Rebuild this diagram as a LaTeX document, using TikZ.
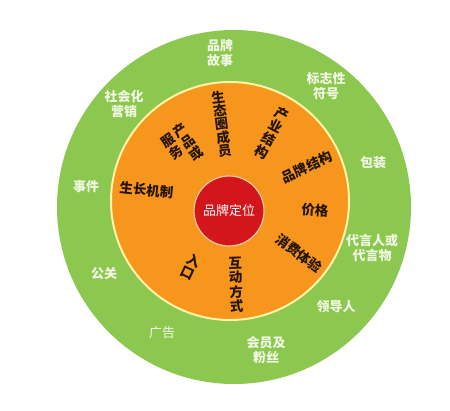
\documentclass[tikz,border=0pt]{standalone}
\usepackage{fontspec}
\newfontfamily\cjk{Noto Sans CJK SC}
\definecolor{gr}{HTML}{8CC750}
\definecolor{orng}{HTML}{F7961C}
\definecolor{yl}{HTML}{FFF3A6}
\definecolor{rd}{HTML}{D3161C}
\definecolor{rdedge}{HTML}{F4C7A4}
\definecolor{wt}{HTML}{F0F8E2}
\definecolor{dk}{HTML}{241400}
\tikzset{
  outer/.style={text=wt, font=\cjk\bfseries\fontsize{13}{15.5}\selectfont, align=center, inner sep=0pt},
  innerlbl/.style={text=dk, font=\cjk\bfseries\fontsize{13.5}{14}\selectfont, inner sep=0pt},
  vstack/.style={text=dk, font=\cjk\bfseries\fontsize{13.5}{#1}\selectfont, inner sep=0pt, align=center},
  vstack/.default=14
}
\begin{document}
\begin{tikzpicture}[x=1pt,y=-1pt]
\useasboundingbox[fill=white] (0,0) rectangle (450,410);
% rings
\node (ring) at (234,207) [circle, fill=gr, minimum size=354pt, inner sep=0pt] {};
\node (mid) at (230,201) [circle, fill=orng, draw=yl, line width=2pt, minimum size=238pt, inner sep=0pt] {};
\node (core) at (229,211) [circle, fill=rd, draw=rdedge, line width=1.2pt, minimum size=70pt, inner sep=0pt] {};
\node (coretxt) at (core.center) [text=white, font=\cjk\fontsize{13}{14}\selectfont, inner sep=0pt] {品牌定位};
% outer labels
\node (o1) at (220,53) [outer] {品牌\\故事};
\node (o2) at (326,86) [outer] {标志性\\符号};
\node (o3) at (124,104) [outer] {社会化\\营销};
\node (o4) at (373,163) [outer] {包装};
\node (o5) at (86,187) [outer] {事件};
\node (o6) at (372,248) [outer] {代言人或\\代言物};
\node (o7) at (104,274) [outer] {公关};
\node (o8) at (336,307) [outer] {领导人};
\node (o9) at (162,333) [outer, font=\cjk\fontsize{13}{15}\selectfont] {广告};
\node (o10) at (266,350) [outer] {会员及\\粉丝};
% inner labels
\node (i1) at (221.5,124) [vstack=13, rotate=7] {生\\态\\圈\\成\\员};
\node (i2) at (272,133) [vstack=14.5, rotate=-28] {产\\业\\结\\构};
\node (i3a) at (188,142) [vstack=12.5, rotate=35] {产\\品\\或};
\node (i3b) at (172,146.5) [vstack=12.5, rotate=35] {服\\务};
\node (i4) at (307,167) [innerlbl, rotate=25] {品牌结构};
\node (i5) at (315,210) [innerlbl, rotate=-3] {价格};
\node (i6) at (299,253.5) [innerlbl, rotate=-36] {消费体验};
\node (i7) at (236,285) [vstack=14.5, rotate=2] {互\\动\\方\\式};
\node (i8) at (191,266.5) [vstack=13, rotate=-25] {入\\口};
\node (i9) at (146.5,190) [innerlbl, rotate=-6] {生长机制};
\end{tikzpicture}
\end{document}
